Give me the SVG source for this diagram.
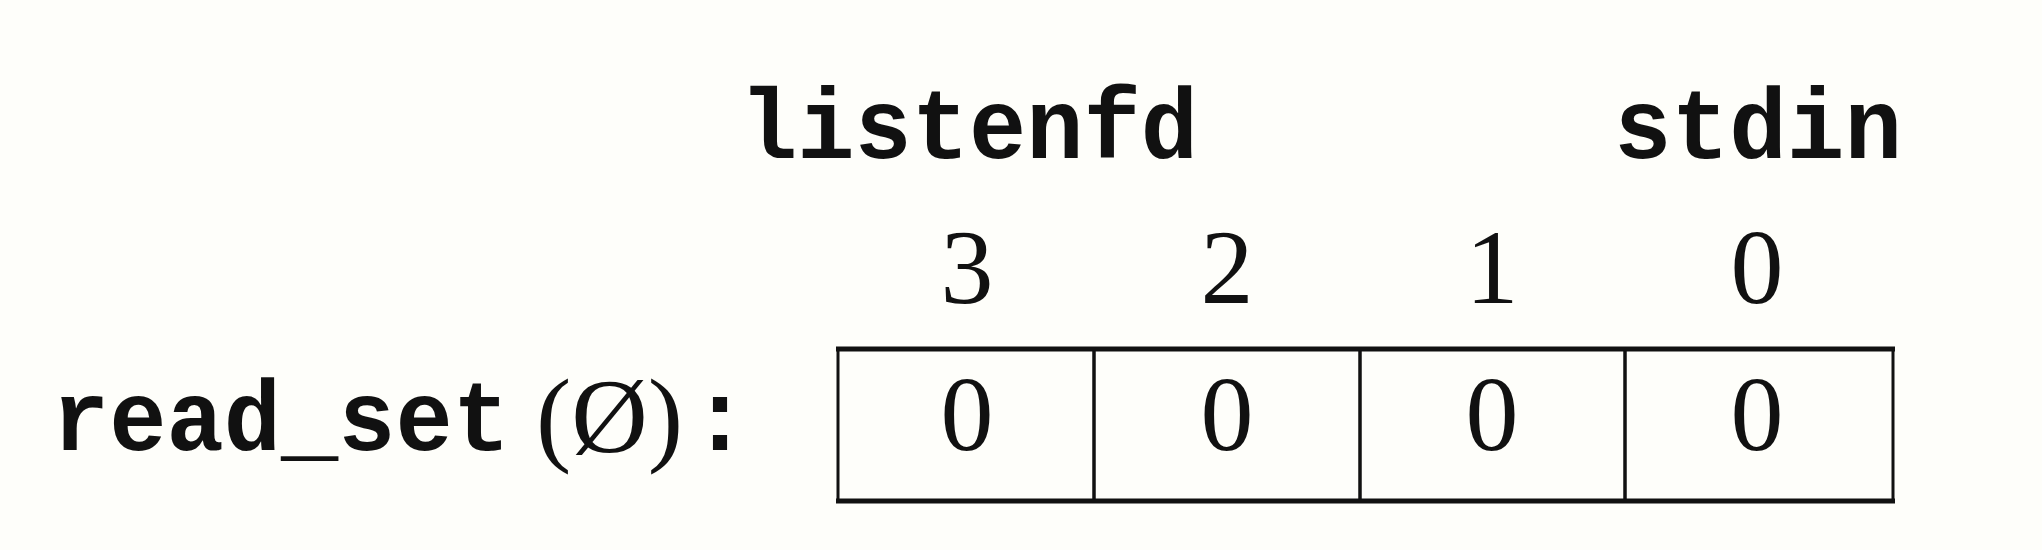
<svg xmlns="http://www.w3.org/2000/svg" width="2042" height="550" viewBox="0 0 2042 550">
<style>
.mono{font-family:"Liberation Mono","DejaVu Sans Mono",monospace;font-weight:bold;font-size:100px;fill:#111}
.rm{font-family:"Liberation Serif","DejaVu Serif",serif;font-size:106px;fill:#111}
.cell{fill:none;stroke:#111;stroke-width:3}
.hl{stroke:#111;stroke-width:5}
</style>
<rect x="0" y="0" width="2042" height="550" fill="#fefefa"/>
<g id="label-listenfd"><text class="mono" x="740" y="158" textLength="458" lengthAdjust="spacingAndGlyphs">listenfd</text></g>
<g id="label-stdin"><text class="mono" x="1614" y="158" textLength="288" lengthAdjust="spacingAndGlyphs">stdin</text></g>
<g id="index-labels">
<text class="rm" x="967" y="303" text-anchor="middle">3</text>
<text class="rm" x="1227" y="303" text-anchor="middle">2</text>
<text class="rm" x="1492" y="303" text-anchor="middle">1</text>
<text class="rm" x="1757" y="303" text-anchor="middle">0</text>
</g>
<g id="label-read_set">
<text class="mono" x="52" y="450" textLength="458" lengthAdjust="spacingAndGlyphs">read_set</text>
<text class="rm" x="536" y="452">(Ø)</text>
<text class="mono" x="690" y="450">:</text>
</g>
<g id="cell-3"><rect class="cell" x="838" y="349" width="256" height="152"/><text class="rm" x="967" y="450" text-anchor="middle">0</text></g>
<g id="cell-2"><rect class="cell" x="1094" y="349" width="266" height="152"/><text class="rm" x="1227" y="450" text-anchor="middle">0</text></g>
<g id="cell-1"><rect class="cell" x="1360" y="349" width="265" height="152"/><text class="rm" x="1492" y="450" text-anchor="middle">0</text></g>
<g id="cell-0"><rect class="cell" x="1625" y="349" width="268" height="152"/><text class="rm" x="1757" y="450" text-anchor="middle">0</text></g>
<g id="box-edges"><line class="hl" x1="836" y1="349" x2="1895" y2="349"/><line class="hl" x1="836" y1="501" x2="1895" y2="501"/></g>
<g id="connectors"/>
</svg>
